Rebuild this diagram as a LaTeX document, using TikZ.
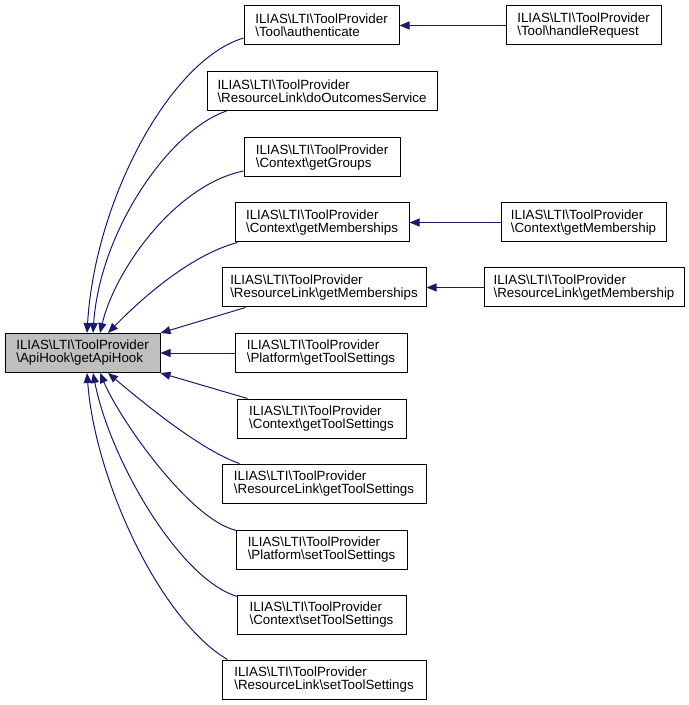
\documentclass[tikz,border=0pt]{standalone}
\usepackage{fontspec}
\setmainfont{Liberation Sans}
\usetikzlibrary{arrows.meta,calc}
\definecolor{edgeblue}{HTML}{191970}
\definecolor{mainfill}{HTML}{BFBFBF}
\newcommand{\myBS}{\textbackslash}
\begin{document}
\begin{tikzpicture}[x=0.75pt,y=-0.75pt,
  fbox/.style={draw=black,line width=0.75pt,fill=white,align=left,inner sep=0pt,
    minimum height=29.25pt,font=\fontsize{10}{9.8}\selectfont},
  arr/.style={draw=edgeblue,line width=0.75pt,-{Triangle[length=7.5pt,width=6pt]}}]
\useasboundingbox (0,0) rectangle (688,705);
% nodes
\node[fbox,fill=mainfill,minimum width=116.25pt] (main) at (82.5,353) {ILIAS\myBS LTI\myBS ToolProvider\\\myBS ApiHook\myBS getApiHook};
\node[fbox,minimum width=116.25pt] (auth) at (321.5,25.5) {ILIAS\myBS LTI\myBS ToolProvider\\\myBS Tool\myBS authenticate};
\node[fbox,minimum width=172.5pt] (doout) at (322,91) {ILIAS\myBS LTI\myBS ToolProvider\\\myBS ResourceLink\myBS doOutcomesService};
\node[fbox,minimum width=117pt] (groups) at (322,157.5) {ILIAS\myBS LTI\myBS ToolProvider\\\myBS Context\myBS getGroups};
\node[fbox,minimum width=130.5pt] (ctxmems) at (322,222.5) {ILIAS\myBS LTI\myBS ToolProvider\\\myBS Context\myBS getMemberships};
\node[fbox,minimum width=153pt] (rlmems) at (324,287.5) {ILIAS\myBS LTI\myBS ToolProvider\\\myBS ResourceLink\myBS getMemberships};
\node[fbox,minimum width=129pt] (platgts) at (321,353) {ILIAS\myBS LTI\myBS ToolProvider\\\myBS Platform\myBS getToolSettings};
\node[fbox,minimum width=126.75pt] (ctxgts) at (321.5,418.5) {ILIAS\myBS LTI\myBS ToolProvider\\\myBS Context\myBS getToolSettings};
\node[fbox,minimum width=153pt] (rlgts) at (324,483.5) {ILIAS\myBS LTI\myBS ToolProvider\\\myBS ResourceLink\myBS getToolSettings};
\node[fbox,minimum width=128.25pt] (platsts) at (321.5,549.5) {ILIAS\myBS LTI\myBS ToolProvider\\\myBS Platform\myBS setToolSettings};
\node[fbox,minimum width=126.75pt] (ctxsts) at (321.5,614.5) {ILIAS\myBS LTI\myBS ToolProvider\\\myBS Context\myBS setToolSettings};
\node[fbox,minimum width=153pt] (rlsts) at (324,679.5) {ILIAS\myBS LTI\myBS ToolProvider\\\myBS ResourceLink\myBS setToolSettings};
\node[fbox,minimum width=116.25pt] (handle) at (583.5,25.5) {ILIAS\myBS LTI\myBS ToolProvider\\\myBS Tool\myBS handleRequest};
\node[fbox,minimum width=123.75pt] (ctxmem) at (583.5,222.5) {ILIAS\myBS LTI\myBS ToolProvider\\\myBS Context\myBS getMembership};
\node[fbox,minimum width=150pt] (rlmem) at (584,287.5) {ILIAS\myBS LTI\myBS ToolProvider\\\myBS ResourceLink\myBS getMembership};
% right-hand edges
\draw[arr] (handle.west) -- (auth.east);
\draw[arr] (ctxmem.west) -- (ctxmems.east);
\draw[arr] (rlmem.west) -- (rlmems.east);
% edges into main (top)
\draw[arr] ($(auth.west)+(0,12.5)$) .. controls (170,60) and (95,200) .. ($(main.north)+(4.5,0)$);
\draw[arr] ($(doout.south west)+(20,0)$) .. controls (170,130) and (100,230) .. ($(main.north)+(10.5,0)$);
\draw[arr] ($(groups.west)+(0,13.5)$) .. controls (175,185) and (115,270) .. ($(main.north)+(17.5,0)$);
\draw[arr] ($(ctxmems.south west)+(3,0)$) .. controls (190,255) and (140,300) .. ($(main.north)+(25.5,0)$);
\draw[arr] ($(rlmems.south west)+(24,0)$) -- (main.north east);
% middle
\draw[arr] (platgts.west) -- (main.east);
% edges into main (bottom)
\draw[arr] ($(ctxgts.north west)+(11,0)$) -- (main.south east);
\draw[arr] ($(rlgts.north west)+(18,0)$) .. controls (200,450) and (140,400) .. ($(main.south)+(25.5,0)$);
\draw[arr] ($(platsts.north west)+(1,1)$) .. controls (190,520) and (120,420) .. ($(main.south)+(17.5,0)$);
\draw[arr] ($(ctxsts.north west)+(1,2)$) .. controls (180,580) and (110,460) .. ($(main.south)+(10.5,0)$);
\draw[arr] ($(rlsts.north west)+(6,0)$) .. controls (160,620) and (95,480) .. ($(main.south)+(4.5,0)$);
\end{tikzpicture}
\end{document}
